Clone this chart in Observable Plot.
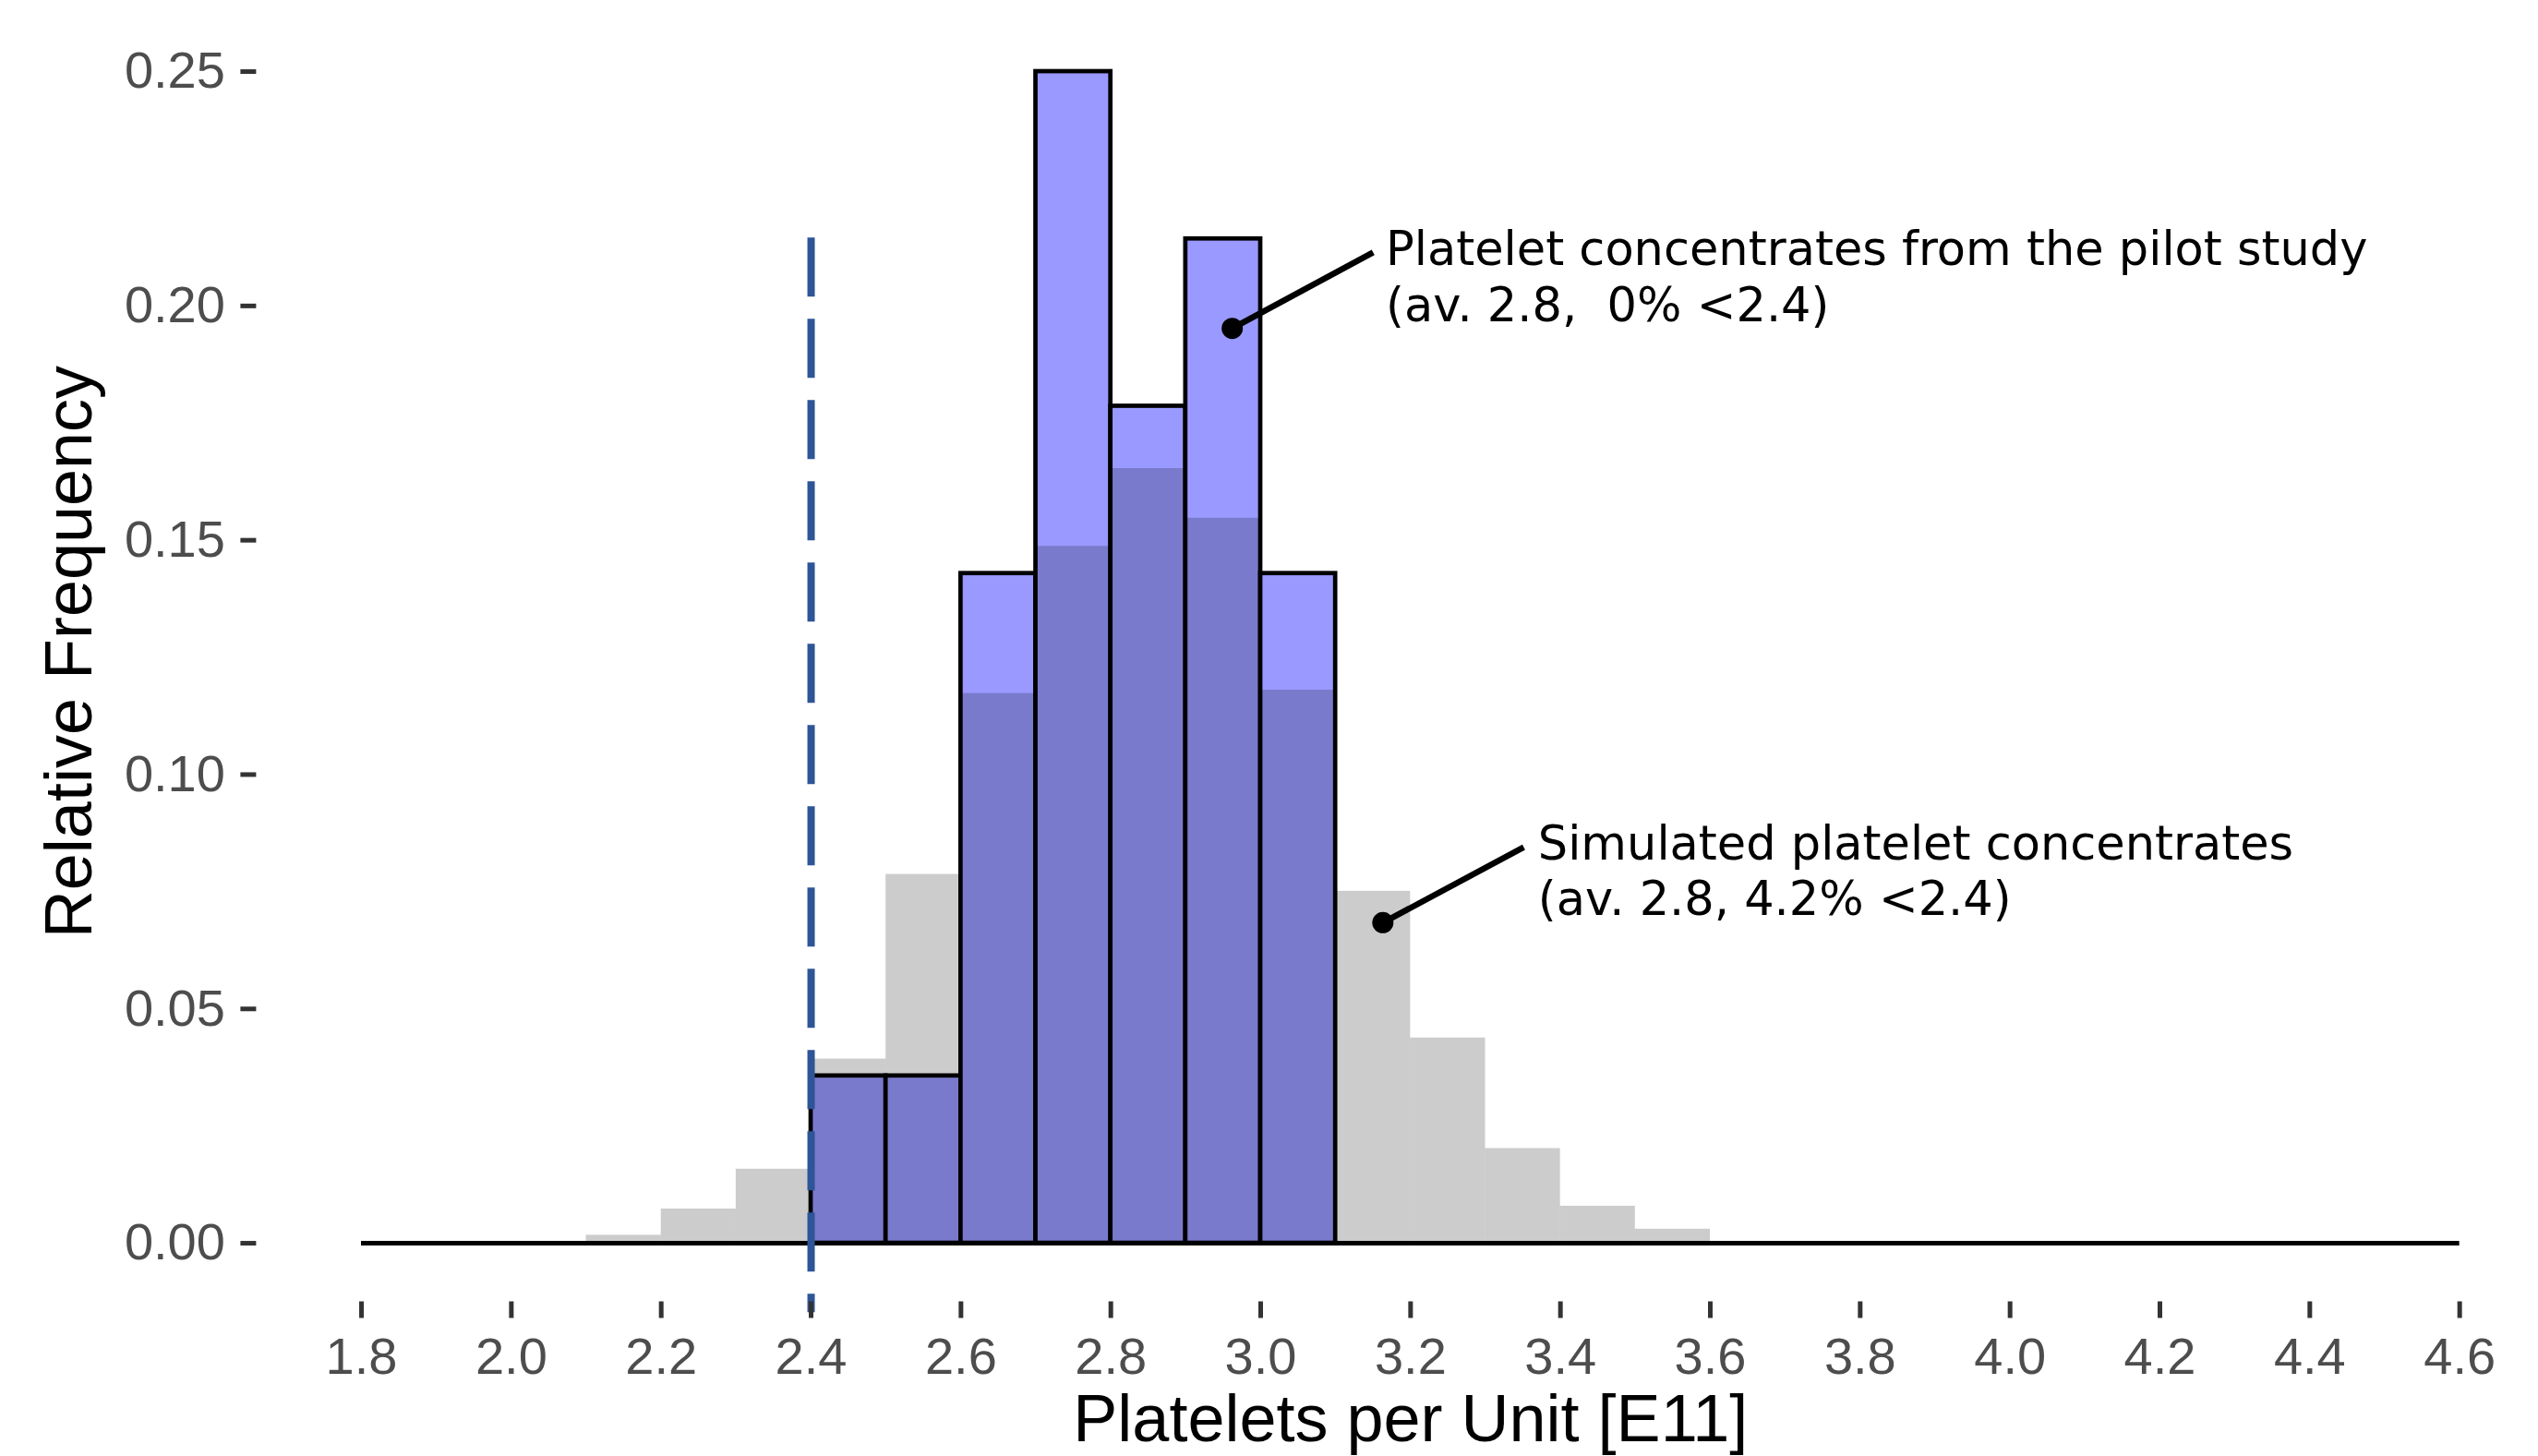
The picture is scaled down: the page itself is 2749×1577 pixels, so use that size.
<!DOCTYPE html>
<html>
<head>
<meta charset="utf-8">
<script src="https://cdn.jsdelivr.net/npm/d3@7"></script>
<script src="https://cdn.jsdelivr.net/npm/@observablehq/plot@0.6"></script>
<style>
  html, body { margin: 0; padding: 0; background: #ffffff; }
  #chart svg { display: block; }
  #chart svg text { white-space: pre; }
</style>
</head>
<body>
<div id="chart"></div>
<script>
// ---- Data ----
const binWidth = 0.1;
const simBinStart = [2.1, 2.2, 2.3, 2.4, 2.5, 2.6, 2.7, 2.8, 2.9, 3.0, 3.1, 3.2, 3.3, 3.4, 3.5];
const simFreq     = [0.0017, 0.0073, 0.0158, 0.0393, 0.0787, 0.1173, 0.1487, 0.1653, 0.1547, 0.1180, 0.0751, 0.0438, 0.0202, 0.0079, 0.0030];
const pilotBinStart = [2.4, 2.5, 2.6, 2.7, 2.8, 2.9, 3.0];
const pilotFreq     = [0.0357, 0.0357, 0.1429, 0.2500, 0.1786, 0.2143, 0.1429];

const xTicks = [1.8, 2.0, 2.2, 2.4, 2.6, 2.8, 3.0, 3.2, 3.4, 3.6, 3.8, 4.0, 4.2, 4.4, 4.6];
const yTicks = [0, 0.05, 0.10, 0.15, 0.20, 0.25];
const xDomain = [1.66, 4.74];
const yDomain = [-0.0125, 0.2625];
const baselineSpan = [1.8, 4.6];

const thresholdX = [2.4];
const thresholdTop = 0.2145;
const thresholdBottom = -0.0148;

const annotLabels = [
  "Platelet concentrates from the pilot study\n(av. 2.8,  0% <2.4)",
  "Simulated platelet concentrates\n(av. 2.8, 4.2% <2.4)"
];
const annotDotX  = [2.962, 3.163];
const annotDotY  = [0.1952, 0.0684];
const annotEndX  = [3.150, 3.351];
const annotEndY  = [0.2114, 0.0845];
const annotTextX = [3.167, 3.370];
const annotTextY = [0.1968, 0.0701];

const xTitle = "Platelets per Unit [E11]";
const yTitle = "Relative Frequency";

// ---- Tables built from the arrays ----
const sim = simBinStart.map((s, i) => ({x0: s, x1: +(s + binWidth).toFixed(2), f: simFreq[i]}));
const pilot = pilotBinStart.map((s, i) => ({x0: s, x1: +(s + binWidth).toFixed(2), f: pilotFreq[i]}));
const annots = annotLabels.map((t, i) => ({
  t, dx: annotDotX[i], dy: annotDotY[i], ex: annotEndX[i], ey: annotEndY[i], tx: annotTextX[i], ty: annotTextY[i]
}));

const W = 2749, H = 1577;
const chart = Plot.plot({
  width: W,
  height: H,
  marginLeft: 277.4,
  marginRight: 0,
  marginTop: 13.6,
  marginBottom: 167.5,
  x: {domain: xDomain, range: [277.4, 2777.3]},
  y: {domain: yDomain, range: [1409.5, 13.6]},
  style: {fontFamily: "'Liberation Sans', Arial, sans-serif", background: "#ffffff", overflow: "hidden"},
  marks: [
    // pilot study bars
    Plot.rect(pilot, {x1: "x0", x2: "x1", y1: () => 0, y2: "f", fill: "#9999FF", stroke: "#000000", strokeWidth: 4.7}),
    // simulated bars (translucent grey on top)
    Plot.rect(sim, {x1: "x0", x2: "x1", y1: () => 0, y2: "f", fill: "#000000", fillOpacity: 0.2}),
    // baseline
    Plot.ruleY([0], {x1: baselineSpan[0], x2: baselineSpan[1], stroke: "#000000", strokeWidth: 5}),
    // threshold dashed line
    Plot.ruleX(thresholdX, {y1: thresholdTop, y2: thresholdBottom, stroke: "#2E5597", strokeWidth: 8, strokeDasharray: "64,24"}),
    // annotations
    Plot.link(annots, {x1: "dx", y1: "dy", x2: "ex", y2: "ey", stroke: "#000000", strokeWidth: 6.5}),
    Plot.dot(annots, {x: "dx", y: "dy", r: 11.5, fill: "#000000", stroke: null}),
    Plot.text(annots, {x: "tx", y: "ty", text: "t", textAnchor: "start", lineAnchor: "bottom", lineHeight: 1.18,
      fontSize: 51, fontFamily: "'DejaVu Sans', Verdana, sans-serif", fill: "#000000"}),
    // axes
    Plot.axisX({ticks: xTicks, tickFormat: d3.format(".1f"), tickSize: 18, tickPadding: 20, fontSize: 56,
      fill: "#4D4D4D", stroke: "#333333", strokeWidth: 5, label: null}),
    Plot.axisY({ticks: yTicks, tickFormat: d3.format(".2f"), tickSize: 17, tickPadding: 17, fontSize: 56,
      fill: "#4D4D4D", stroke: "#333333", strokeWidth: 5, label: null}),
    // axis titles
    Plot.text([xTitle], {x: () => (xDomain[0] + xDomain[1]) / 2, frameAnchor: "bottom", dy: 151, text: d => d,
      textAnchor: "middle", lineAnchor: "bottom", fontSize: 72, fill: "#000000"}),
    Plot.text([yTitle], {frameAnchor: "left", rotate: -90, dx: -179, dy: -6, text: d => d,
      textAnchor: "middle", lineAnchor: "bottom", fontSize: 72, fill: "#000000"})
  ]
});
document.getElementById("chart").appendChild(chart);
</script>
</body>
</html>
